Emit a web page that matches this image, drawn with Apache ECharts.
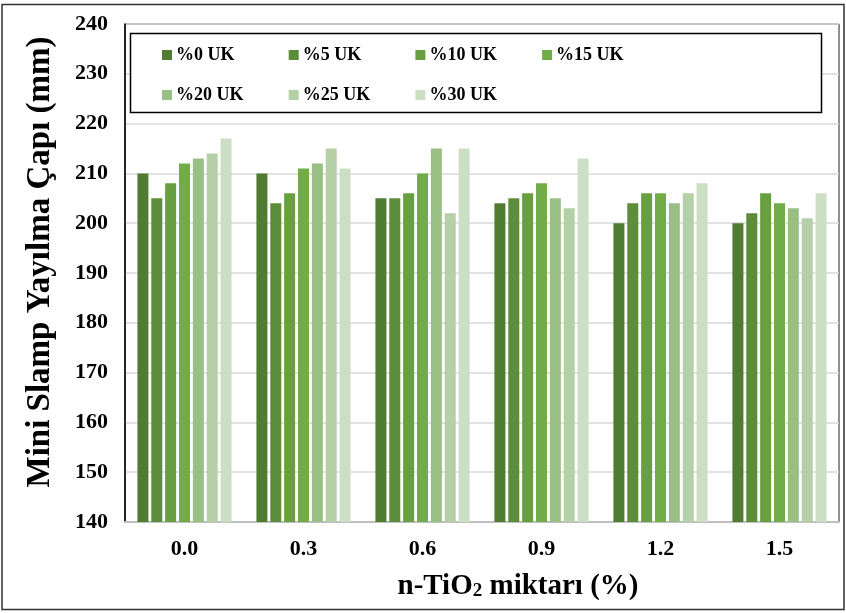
<!DOCTYPE html>
<html>
<head>
<meta charset="utf-8">
<style>
  html, body { margin: 0; padding: 0; background: #fff; }
  #chart { width: 846px; height: 613px; }
</style>
<script src="https://cdn.jsdelivr.net/npm/echarts@6/dist/echarts.min.js"></script>
</head>
<body>
<div id="chart"></div>
<script>
// n-TiO2 content groups on the x axis
const categories = ['0.0', '0.3', '0.6', '0.9', '1.2', '1.5'];

// Mini slump spread diameter (mm) per fly-ash replacement level
const seriesNames = ['%0 UK', '%5 UK', '%10 UK', '%15 UK', '%20 UK', '%25 UK', '%30 UK'];
const uk0  = [210, 210, 205, 204, 200, 200];
const uk5  = [205, 204, 205, 205, 204, 202];
const uk10 = [208, 206, 206, 206, 206, 206];
const uk15 = [212, 211, 210, 208, 206, 204];
const uk20 = [213, 212, 215, 205, 204, 203];
const uk25 = [214, 215, 202, 203, 206, 201];
const uk30 = [217, 211, 215, 213, 208, 206];
const seriesValues = [uk0, uk5, uk10, uk15, uk20, uk25, uk30];

const colors = ['#507C32', '#5B8D3A', '#689F41', '#72AC48', '#9ABF85', '#B5CFA6', '#CCDEC4'];

const FONT = '"Liberation Serif", "Times New Roman", serif';

const chart = echarts.init(document.getElementById('chart'), null, { renderer: 'canvas' });

// Legend laid out as a 4-column grid: one legend component per entry
const LEGEND_COLS = 4;
const legends = seriesNames.map((name, i) => ({
  data: [name],
  left: 157 + (i % LEGEND_COLS) * 126.7,
  top: 41 + Math.floor(i / LEGEND_COLS) * 40,
  itemWidth: 10,
  itemHeight: 10,
  itemGap: 4,
  icon: 'rect',
  z: 20,
  textStyle: { fontFamily: FONT, fontWeight: 'bold', fontSize: 18, color: '#000', padding: [0, 0, 0, -1] }
}));

chart.setOption({
  animation: false,
  color: colors,
  grid: {
    left: 125, right: 7, top: 24, bottom: 91,
    show: true, borderColor: '#222', borderWidth: 1, backgroundColor: 'transparent'
  },
  legend: legends,
  xAxis: {
    type: 'category',
    data: categories,
    axisTick: { show: false },
    axisLine: { lineStyle: { color: '#bfbfbf', width: 2 } },
    axisLabel: { fontFamily: FONT, fontWeight: 'bold', fontSize: 22, color: '#000', margin: 16 }
  },
  yAxis: {
    type: 'value',
    min: 140, max: 240, interval: 10,
    axisLine: { show: true, lineStyle: { color: '#000', width: 1.5 } },
    axisTick: { show: false },
    splitLine: { lineStyle: { color: '#d9d9d9', width: 1.5 } },
    axisLabel: { fontFamily: FONT, fontWeight: 'bold', fontSize: 22, color: '#000', margin: 17 }
  },
  series: seriesNames.map((name, i) => ({
    name: name,
    type: 'bar',
    data: seriesValues[i],
    barWidth: 11,
    barGap: '26%',
    itemStyle: { color: colors[i] }
  })),
  graphic: [
    {
      type: 'rect', silent: true, z: -1,
      shape: { x: 2, y: 4.5, width: 842, height: 605 },
      style: { fill: 'none', stroke: '#333', lineWidth: 1.5 }
    },
    {
      type: 'rect', silent: true, z: 3,
      shape: { x: 130.5, y: 33.5, width: 691, height: 79 },
      style: { fill: '#fff', stroke: '#000', lineWidth: 1.5 }
    },
    {
      type: 'text', silent: true, z: 20,
      x: 40, y: 262, rotation: Math.PI / 2,
      style: {
        text: 'Mini Slamp Yayılma Çapı (mm)',
        font: 'bold 33px ' + FONT,
        fill: '#000',
        align: 'center', verticalAlign: 'middle'
      }
    },
    {
      type: 'text', silent: true, z: 20,
      x: 518, y: 585,
      style: {
        text: '{t|n-TiO}{s|2}{t| miktarı (%)}',
        rich: {
          t: { font: 'bold 29px ' + FONT, fill: '#000', verticalAlign: 'bottom', lineHeight: 32 },
          s: { font: 'bold 19px ' + FONT, fill: '#000', verticalAlign: 'bottom', lineHeight: 24 }
        },
        align: 'center', verticalAlign: 'middle'
      }
    }
  ]
});
</script>
</body>
</html>
